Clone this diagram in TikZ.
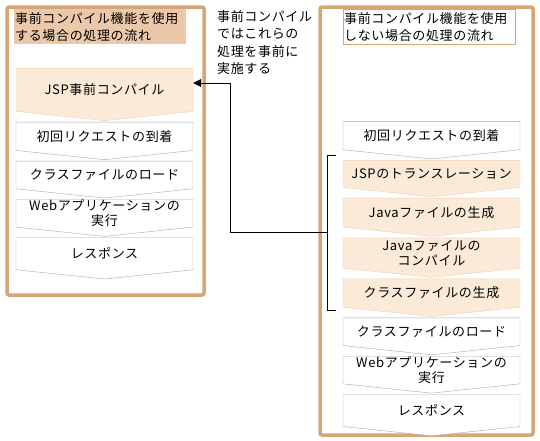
\documentclass[tikz,border=0pt]{standalone}
\usepackage{fontspec}
\newfontfamily\jpfont[LetterSpace=5]{Noto Sans CJK JP}
\usetikzlibrary{positioning, arrows.meta, shapes.symbols}
\definecolor{frametan}{RGB}{214,166,118}
\definecolor{titlefill}{RGB}{236,200,170}
\definecolor{stepfill}{RGB}{252,234,216}
\definecolor{stepline}{RGB}{240,208,176}
\definecolor{plainline}{RGB}{168,168,168}
\tikzset{
  frame/.style    = {draw=frametan, line width=3.5pt, rounded corners=2pt},
  titlebox/.style = {anchor=north west, minimum width=172pt, minimum height=35pt, text width=170pt, inner sep=1pt, align=left, font={\jpfont\fontsize{13}{17}\selectfont}},
  flowbox/.style  = {draw=plainline, fill=white, shape=signal, signal to=south, signal pointer angle=168, minimum width=177pt, minimum height=35.5pt, inner sep=0pt, align=center, font={\jpfont\fontsize{13}{15}\selectfont}},
  prebox/.style   = {flowbox, draw=stepline, fill=stepfill},
  arrow/.style    = {-{Triangle[length=8pt, width=8pt]}, thick}
}

\begin{document}
\begin{tikzpicture}[x=1pt, y=-1pt]
  \useasboundingbox (0,0) rectangle (540,440);

  % left: with precompile
  \draw[frame] (7,7) rectangle (204,295);
  \node[titlebox, fill=titlefill] (ltitle) at (14,9) {事前コンパイル機能を使用\\する場合の処理の流れ};
  \node[prebox, minimum height=49pt] (ljsp) at (104.5,90) {JSP事前コンパイル};
  \node[flowbox, below=1pt of ljsp] (lreq) {初回リクエストの到着};
  \node[flowbox, below=1pt of lreq] (lload) {クラスファイルのロード};
  \node[flowbox, below=1pt of lload] (lweb) {Webアプリケーションの\\実行};
  \node[flowbox, below=1pt of lweb] (lres) {レスポンス};

  % right: without precompile
  \draw[frame] (320,7) rectangle (533,435);
  \node[titlebox, draw=frametan, fill=white] (rtitle) at (343,9) {事前コンパイル機能を使用\\しない場合の処理の流れ};
  \node[flowbox] (rreq) at (431.5,135.5) {初回リクエストの到着};
  \node[prebox, below=1pt of rreq] (rjsp) {JSPのトランスレーション};
  \node[prebox, below=1pt of rjsp] (rjava) {Javaファイルの生成};
  \node[prebox, below=1pt of rjava] (rcomp) {Javaファイルの\\コンパイル};
  \node[prebox, below=1pt of rcomp] (rcls) {クラスファイルの生成};
  \node[flowbox, below=1pt of rcls] (rload) {クラスファイルのロード};
  \node[flowbox, below=1pt of rload] (rweb) {Webアプリケーションの\\実行};
  \node[flowbox, below=1pt of rweb] (rres) {レスポンス};

  % note and bracket
  \node[anchor=north west, inner sep=0pt, align=left, font={\jpfont\fontsize{13}{17.5}\selectfont}] (note) at (217,10) {事前コンパイル\\ではこれらの\\処理を事前に\\実施する};
  \draw[thick] (336,155) -- (327,155) -- (327,310) -- (336,310);
  \coordinate (brk) at (327,232);
  \coordinate (bend) at (230,83);
  \draw[arrow] (brk) -| (bend) -- (ljsp.east |- bend);
\end{tikzpicture}
\end{document}
